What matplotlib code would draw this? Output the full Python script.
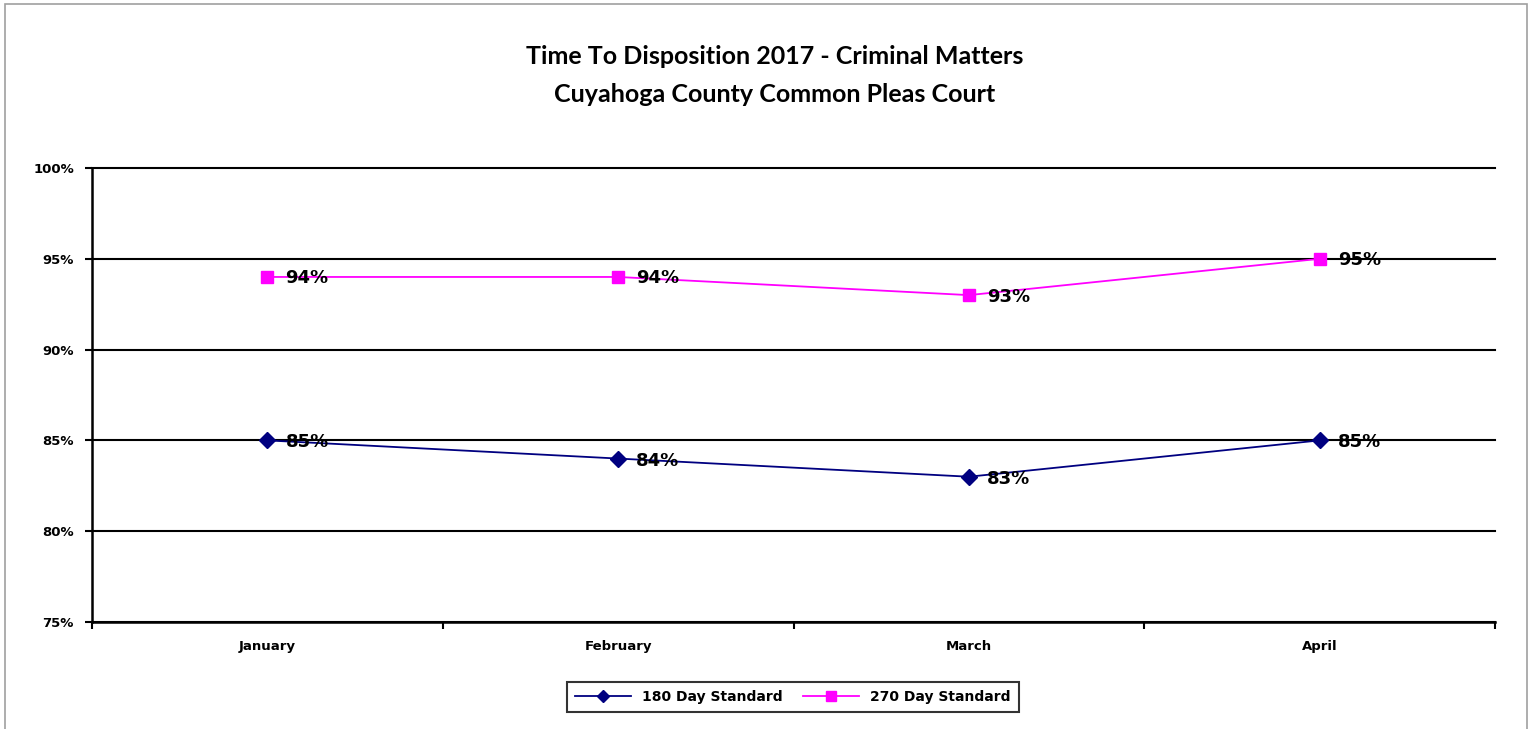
import matplotlib.pyplot as plt
from matplotlib.patches import Rectangle
from matplotlib.ticker import FixedLocator, NullFormatter

months = ["January", "February", "March", "April"]
std_180 = [85, 84, 83, 85]
std_270 = [94, 94, 93, 95]
yticks = [75, 80, 85, 90, 95, 100]

fig = plt.figure(figsize=(15.33, 7.29), dpi=100)
ax = fig.add_axes([92/1533, 107/729, (1495-92)/1533, (622-168)/729])

# outer gray frame like the spreadsheet chart area
fig.patches.append(Rectangle((5/1533, -0.01), (1527-5)/1533, (729-4)/729 + 0.01,
                             transform=fig.transFigure, fill=False,
                             edgecolor="#a0a0a0", linewidth=1.2))

x = range(len(months))
ax.plot(x, std_180, color="#000080", marker="D", markersize=8, linewidth=1.3,
        label="180 Day Standard", zorder=3)
ax.plot(x, std_270, color="#ff00ff", marker="s", markersize=9, linewidth=1.3,
        label="270 Day Standard", zorder=3)

for xi, v in zip(x, std_180):
    ax.annotate(f"{v}%", (xi, v), xytext=(13, -1.5), textcoords="offset points",
                va="center", ha="left", fontsize=13, fontweight="bold", zorder=4)
for xi, v in zip(x, std_270):
    ax.annotate(f"{v}%", (xi, v), xytext=(13, -1), textcoords="offset points",
                va="center", ha="left", fontsize=13, fontweight="bold", zorder=4)

ax.set_xlim(-0.5, 3.5)
ax.set_ylim(75, 100)
ax.set_yticks(yticks)
ax.set_yticklabels([f"{t}%" for t in yticks], fontsize=9.5, fontweight="bold")
ax.yaxis.grid(True, color="black", linewidth=1.5)
for gl in ax.get_ygridlines():
    gl.set_clip_on(False)
ax.set_axisbelow(True)

ax.set_xticks(list(x))
ax.set_xticklabels(months, fontsize=9.5, fontweight="bold")
ax.tick_params(axis="x", length=0, pad=13)
ax.xaxis.set_minor_locator(FixedLocator([-0.5, 0.5, 1.5, 2.5, 3.5]))
ax.xaxis.set_minor_formatter(NullFormatter())
ax.tick_params(axis="x", which="minor", length=5, width=1.5)
ax.tick_params(axis="y", length=5, width=1.5, pad=8)

for s in ["top", "right"]:
    ax.spines[s].set_visible(False)
for s in ["left", "bottom"]:
    ax.spines[s].set_linewidth(1.8)

fig.text(775/1533, 1 - 57/729, "Time To Disposition 2017 - Criminal Matters",
         ha="center", va="center", fontsize=18, fontweight="bold", family="Lato")
fig.text(775/1533, 1 - 95/729, "Cuyahoga County Common Pleas Court",
         ha="center", va="center", fontsize=18, fontweight="bold", family="Lato")

leg = fig.legend(loc="center", bbox_to_anchor=(793/1533, 1 - 697/729), ncol=2,
                 frameon=True, fancybox=False, edgecolor="black",
                 prop={"weight": "bold", "size": 10},
                 handlelength=4, columnspacing=1.5, borderpad=0.6,
                 markerscale=0.8)
leg.get_frame().set_linewidth(1.5)

fig.savefig("out.png", dpi=100)
